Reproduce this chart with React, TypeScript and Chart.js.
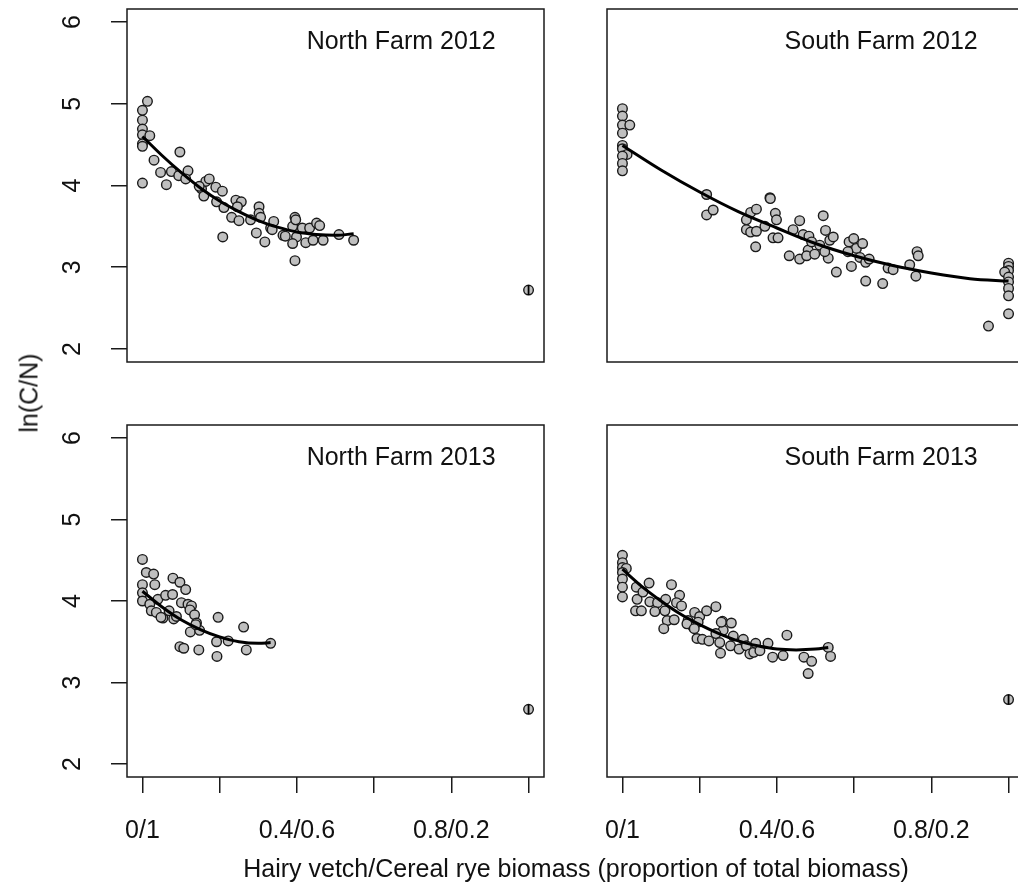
import React, { useEffect, useRef } from "react";
import { Chart, registerables } from "chart.js";

Chart.register(...registerables);

const FONT = '"Liberation Sans", Arial, Helvetica, sans-serif';
const INK = "#1a1a1a";
const FILL = "#bfbfbf";

// Axis ticks shared by every panel
const xTickValues = [0, 0.2, 0.4, 0.6, 0.8, 1.0];
const xTickLabels = ["0/1", "", "0.4/0.6", "", "0.8/0.2", ""];
const yTickValues = [2, 3, 4, 5, 6];
const yTickLabels = ["2", "3", "4", "5", "6"];

// North Farm 2012
const north2012X = [0.013, 0, 0, 0, 0, 0, 0, 0.019, 0.097, 0.03, 0.047, 0, 0.062, 0.075, 0.094, 0.118, 0.112, 0.153, 0.164, 0.173, 0.19, 0.207, 0.159, 0.192, 0.211, 0.242, 0.256, 0.246, 0.231, 0.25, 0.208, 0.28, 0.302, 0.302, 0.306, 0.295, 0.317, 0.332, 0.34, 0.364, 0.389, 0.395, 0.397, 0.399, 0.389, 0.395, 0.414, 0.423, 0.433, 0.442, 0.451, 0.459, 0.468, 0.509, 0.547, 0.147, 0.336, 0.37];
const north2012Y = [5.03, 4.92, 4.8, 4.69, 4.62, 4.51, 4.48, 4.61, 4.41, 4.31, 4.16, 4.03, 4.01, 4.17, 4.12, 4.18, 4.08, 3.96, 4.05, 4.08, 3.98, 3.93, 3.87, 3.8, 3.73, 3.82, 3.8, 3.74, 3.61, 3.57, 3.37, 3.58, 3.74, 3.66, 3.61, 3.42, 3.31, 3.48, 3.56, 3.39, 3.5, 3.61, 3.58, 3.37, 3.29, 3.08, 3.48, 3.3, 3.48, 3.33, 3.54, 3.51, 3.33, 3.4, 3.33, 3.99, 3.46, 3.38];
const north2012FitX = [0, 0.05, 0.1, 0.15, 0.2, 0.25, 0.3, 0.35, 0.4, 0.45, 0.5, 0.547];
const north2012FitY = [4.6, 4.37, 4.16, 3.97, 3.81, 3.68, 3.57, 3.49, 3.43, 3.4, 3.39, 3.41];
const north2012LoneX = [1.0];
const north2012LoneY = [2.72];

// South Farm 2012
const south2012X = [0, 0, 0, 0.019, 0, 0, 0, 0.012, 0, 0, 0, 0.218, 0.382, 0.218, 0.235, 0.321, 0.332, 0.347, 0.321, 0.332, 0.347, 0.345, 0.369, 0.383, 0.396, 0.399, 0.39, 0.403, 0.432, 0.442, 0.459, 0.459, 0.468, 0.481, 0.483, 0.477, 0.49, 0.498, 0.52, 0.526, 0.511, 0.533, 0.537, 0.546, 0.524, 0.554, 0.587, 0.599, 0.606, 0.622, 0.593, 0.584, 0.615, 0.63, 0.63, 0.639, 0.674, 0.688, 0.701, 0.744, 0.76, 0.763, 0.766, 1, 1, 1, 0.99, 1, 1, 1, 1, 1, 0.948];
const south2012Y = [4.94, 4.85, 4.74, 4.74, 4.64, 4.49, 4.45, 4.38, 4.36, 4.27, 4.18, 3.89, 3.85, 3.64, 3.7, 3.58, 3.67, 3.71, 3.46, 3.43, 3.44, 3.25, 3.5, 3.84, 3.66, 3.58, 3.36, 3.36, 3.14, 3.46, 3.57, 3.1, 3.4, 3.21, 3.38, 3.14, 3.31, 3.16, 3.63, 3.45, 3.27, 3.11, 3.33, 3.37, 3.19, 2.94, 3.31, 3.35, 3.23, 3.29, 3.01, 3.19, 3.12, 2.83, 3.06, 3.1, 2.8, 2.99, 2.97, 3.03, 2.89, 3.19, 3.14, 3.05, 3.01, 2.96, 2.94, 2.88, 2.82, 2.74, 2.65, 2.43, 2.28];
const south2012FitX = [0, 0.1, 0.2, 0.3, 0.4, 0.5, 0.6, 0.7, 0.8, 0.9, 1.0];
const south2012FitY = [4.49, 4.19, 3.92, 3.68, 3.48, 3.29, 3.14, 3.02, 2.93, 2.86, 2.83];
const south2012LoneX: number[] = [];
const south2012LoneY: number[] = [];

// North Farm 2013
const north2013X = [0, 0.01, 0.029, 0.032, 0, 0, 0, 0.079, 0.097, 0.112, 0.019, 0.04, 0.06, 0.078, 0.101, 0.118, 0.127, 0.123, 0.023, 0.036, 0.053, 0.081, 0.069, 0.135, 0.14, 0.124, 0.148, 0.196, 0.262, 0.138, 0.192, 0.222, 0.097, 0.107, 0.146, 0.193, 0.269, 0.332, 0.048, 0.088];
const north2013Y = [4.51, 4.35, 4.33, 4.2, 4.2, 4.1, 4.0, 4.28, 4.23, 4.14, 3.96, 4.02, 4.07, 4.08, 3.98, 3.96, 3.94, 3.89, 3.88, 3.86, 3.79, 3.78, 3.88, 3.83, 3.73, 3.62, 3.64, 3.8, 3.68, 3.71, 3.5, 3.51, 3.44, 3.42, 3.4, 3.32, 3.4, 3.48, 3.8, 3.81];
const north2013FitX = [0, 0.05, 0.1, 0.15, 0.2, 0.25, 0.3, 0.332];
const north2013FitY = [4.12, 3.93, 3.77, 3.65, 3.56, 3.5, 3.48, 3.49];
const north2013LoneX = [1.0];
const north2013LoneY = [2.67];

// South Farm 2013
const south2013X = [0, 0, 0, 0.01, 0, 0, 0, 0, 0.069, 0.127, 0.036, 0.038, 0.053, 0.071, 0.091, 0.112, 0.148, 0.14, 0.034, 0.049, 0.084, 0.11, 0.116, 0.134, 0.153, 0.187, 0.2, 0.218, 0.242, 0.107, 0.17, 0.183, 0.196, 0.259, 0.282, 0.261, 0.167, 0.186, 0.193, 0.207, 0.224, 0.242, 0.252, 0.254, 0.256, 0.287, 0.28, 0.302, 0.313, 0.321, 0.33, 0.34, 0.345, 0.356, 0.377, 0.389, 0.416, 0.426, 0.47, 0.49, 0.481, 0.533, 0.539];
const south2013Y = [4.56, 4.47, 4.41, 4.4, 4.35, 4.27, 4.17, 4.05, 4.22, 4.2, 4.17, 4.02, 4.11, 3.99, 3.98, 4.02, 4.07, 3.98, 3.88, 3.88, 3.87, 3.88, 3.76, 3.77, 3.94, 3.86, 3.81, 3.88, 3.93, 3.66, 3.76, 3.68, 3.74, 3.75, 3.73, 3.64, 3.72, 3.66, 3.54, 3.53, 3.51, 3.6, 3.49, 3.36, 3.74, 3.57, 3.45, 3.41, 3.53, 3.45, 3.35, 3.37, 3.48, 3.39, 3.48, 3.31, 3.33, 3.58, 3.31, 3.26, 3.11, 3.43, 3.32];
const south2013FitX = [0, 0.05, 0.1, 0.15, 0.2, 0.25, 0.3, 0.35, 0.4, 0.45, 0.5, 0.533];
const south2013FitY = [4.39, 4.18, 4.0, 3.84, 3.71, 3.6, 3.51, 3.45, 3.41, 3.4, 3.41, 3.43];
const south2013LoneX = [1.0];
const south2013LoneY = [2.79];

const zip = (xs: number[], ys: number[]) => xs.map((x, i) => ({ x, y: ys[i] }));

// Frame around the plotting region plus the panel caption
const framePlugin = {
  id: "frame",
  afterDraw(chart: any, _args: any, opts: any) {
    const { ctx, chartArea: a, scales } = chart;
    ctx.save();
    ctx.strokeStyle = INK;
    ctx.lineWidth = 1.5;
    ctx.strokeRect(a.left, a.top, a.right - a.left, a.bottom - a.top);
    ctx.font = `25px ${FONT}`;
    ctx.fillStyle = "#111";
    ctx.textAlign = "center";
    ctx.textBaseline = "middle";
    ctx.fillText(opts.text, scales.x.getPixelForValue(opts.x), scales.y.getPixelForValue(opts.y));
    ctx.restore();
  },
};

// Fixed axis band sizes so every panel's plotting region lines up
const Y_AXIS_BAND = 127;
const X_AXIS_BAND = 115;

const clearPadding = (s: any) => {
  s.paddingTop = 0;
  s.paddingBottom = 0;
  s.paddingLeft = 0;
  s.paddingRight = 0;
};

type Pad = { top: number; right: number; bottom: number; left: number };

type PanelProps = {
  title: string;
  xs: number[];
  ys: number[];
  fitX: number[];
  fitY: number[];
  loneX: number[];
  loneY: number[];
  showX: boolean;
  showY: boolean;
  left: number;
  top: number;
  width: number;
  height: number;
  pad: Pad;
};

function Panel(p: PanelProps) {
  const ref = useRef<HTMLCanvasElement | null>(null);

  useEffect(() => {
    if (!ref.current) return;
    const chart = new Chart(ref.current, {
      type: "scatter",
      data: {
        datasets: [
          {
            data: zip(p.fitX, p.fitY),
            showLine: true,
            borderColor: "#000",
            borderWidth: 3,
            pointRadius: 0,
            cubicInterpolationMode: "monotone",
          } as any,
          {
            data: zip(p.loneX, p.loneY),
            pointStyle: "line",
            rotation: 90,
            pointRadius: 5,
            borderColor: "#000",
            borderWidth: 1.8,
          } as any,
          {
            data: zip(p.loneX, p.loneY),
            pointRadius: 4.8,
            backgroundColor: FILL,
            borderColor: INK,
            borderWidth: 1.4,
          },
          {
            data: zip(p.xs, p.ys),
            pointRadius: 4.8,
            backgroundColor: FILL,
            borderColor: INK,
            borderWidth: 1.4,
          },
        ],
      },
      options: {
        animation: false,
        responsive: false,
        maintainAspectRatio: false,
        devicePixelRatio: 1,
        layout: { padding: p.pad },
        plugins: {
          legend: { display: false },
          tooltip: { enabled: false },
          frame: { text: p.title, x: 0.67, y: 5.75 },
        } as any,
        scales: {
          x: {
            type: "linear",
            min: -0.04,
            max: 1.04,
            display: p.showX,
            afterBuildTicks: (s: any) => {
              s.ticks = xTickValues.map((v) => ({ value: v }));
            },
            afterFit: (s: any) => {
              s.height = p.showX ? X_AXIS_BAND : 0;
              clearPadding(s);
            },
            grid: { drawOnChartArea: false, drawTicks: true, tickLength: 16, color: INK, lineWidth: 1.5 },
            border: { display: false },
            ticks: {
              autoSkip: false,
              maxRotation: 0,
              minRotation: 0,
              padding: 23,
              color: "#111",
              font: { family: FONT, size: 25 },
              callback: (_v: any, i: number) => xTickLabels[i],
            },
          },
          y: {
            type: "linear",
            min: 1.84,
            max: 6.16,
            display: p.showY,
            afterBuildTicks: (s: any) => {
              s.ticks = yTickValues.map((v) => ({ value: v }));
            },
            afterFit: (s: any) => {
              s.width = p.showY ? Y_AXIS_BAND : 0;
              clearPadding(s);
            },
            grid: { drawOnChartArea: false, drawTicks: true, tickLength: 16, color: INK, lineWidth: 1.5 },
            border: { display: false },
            ticks: {
              minRotation: 90,
              maxRotation: 90,
              crossAlign: "center",
              padding: 31,
              color: "#111",
              font: { family: FONT, size: 25 },
              callback: (_v: any, i: number) => yTickLabels[i],
            },
          },
        },
      },
      plugins: [framePlugin],
    });
    return () => chart.destroy();
  }, []);

  return (
    <canvas
      ref={ref}
      width={p.width}
      height={p.height}
      style={{ position: "absolute", left: p.left, top: p.top, width: p.width, height: p.height }}
    />
  );
}

export default function App() {
  return (
    <div
      style={{
        position: "fixed",
        left: 0,
        top: 0,
        width: 1018,
        height: 892,
        overflow: "hidden",
        background: "#fff",
        fontFamily: FONT,
      }}
    >
      <Panel
        title="North Farm 2012"
        xs={north2012X}
        ys={north2012Y}
        fitX={north2012FitX}
        fitY={north2012FitY}
        loneX={north2012LoneX}
        loneY={north2012LoneY}
        showX={false}
        showY={true}
        left={0}
        top={0}
        width={566}
        height={400}
        pad={{ top: 9, right: 22, bottom: 38, left: 0 }}
      />
      <Panel
        title="South Farm 2012"
        xs={south2012X}
        ys={south2012Y}
        fitX={south2012FitX}
        fitY={south2012FitY}
        loneX={south2012LoneX}
        loneY={south2012LoneY}
        showX={false}
        showY={false}
        left={580}
        top={0}
        width={460}
        height={400}
        pad={{ top: 9, right: 16, bottom: 38, left: 27 }}
      />
      <Panel
        title="North Farm 2013"
        xs={north2013X}
        ys={north2013Y}
        fitX={north2013FitX}
        fitY={north2013FitY}
        loneX={north2013LoneX}
        loneY={north2013LoneY}
        showX={true}
        showY={true}
        left={0}
        top={400}
        width={566}
        height={492}
        pad={{ top: 25, right: 22, bottom: 0, left: 0 }}
      />
      <Panel
        title="South Farm 2013"
        xs={south2013X}
        ys={south2013Y}
        fitX={south2013FitX}
        fitY={south2013FitY}
        loneX={south2013LoneX}
        loneY={south2013LoneY}
        showX={true}
        showY={false}
        left={580}
        top={400}
        width={460}
        height={492}
        pad={{ top: 25, right: 16, bottom: 0, left: 27 }}
      />
      <div
        style={{
          position: "absolute",
          left: 29,
          top: 393,
          transform: "translate(-50%, -50%) rotate(-90deg)",
          fontSize: 25,
          whiteSpace: "nowrap",
          color: "#111",
          lineHeight: 1,
        }}
      >
        ln(C/N)
      </div>
      <div
        style={{
          position: "absolute",
          left: 576,
          top: 868,
          transform: "translate(-50%, -50%)",
          fontSize: 25,
          whiteSpace: "nowrap",
          color: "#111",
          lineHeight: 1,
        }}
      >
        Hairy vetch/Cereal rye biomass (proportion of total biomass)
      </div>
    </div>
  );
}
